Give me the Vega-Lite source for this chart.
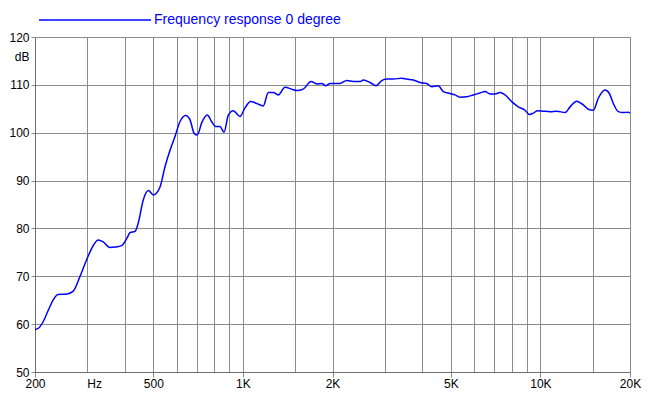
{
  "$schema": "https://vega.github.io/schema/vega-lite/v6.json",
  "width": 595,
  "height": 335,
  "autosize": {"type": "none"},
  "padding": {"left": 35, "top": 37, "right": 20, "bottom": 29},
  "background": "white",
  "config": {
    "font": "Liberation Sans",
    "view": {"stroke": "#6e6e6e", "strokeWidth": 1}
  },
  "data": {
    "values": [
      {"freq": 200, "db": 58.9, "series": "Frequency response 0 degree"},
      {"freq": 205, "db": 59.1, "series": "Frequency response 0 degree"},
      {"freq": 213, "db": 60.5, "series": "Frequency response 0 degree"},
      {"freq": 222, "db": 63.0, "series": "Frequency response 0 degree"},
      {"freq": 230, "db": 65.0, "series": "Frequency response 0 degree"},
      {"freq": 239, "db": 66.2, "series": "Frequency response 0 degree"},
      {"freq": 256, "db": 66.3, "series": "Frequency response 0 degree"},
      {"freq": 269, "db": 66.9, "series": "Frequency response 0 degree"},
      {"freq": 283, "db": 69.9, "series": "Frequency response 0 degree"},
      {"freq": 298, "db": 73.4, "series": "Frequency response 0 degree"},
      {"freq": 310, "db": 75.8, "series": "Frequency response 0 degree"},
      {"freq": 326, "db": 77.6, "series": "Frequency response 0 degree"},
      {"freq": 339, "db": 77.2, "series": "Frequency response 0 degree"},
      {"freq": 357, "db": 76.0, "series": "Frequency response 0 degree"},
      {"freq": 372, "db": 76.1, "series": "Frequency response 0 degree"},
      {"freq": 391, "db": 76.4, "series": "Frequency response 0 degree"},
      {"freq": 407, "db": 77.9, "series": "Frequency response 0 degree"},
      {"freq": 417, "db": 79.1, "series": "Frequency response 0 degree"},
      {"freq": 434, "db": 79.4, "series": "Frequency response 0 degree"},
      {"freq": 445, "db": 81.2, "series": "Frequency response 0 degree"},
      {"freq": 462, "db": 85.9, "series": "Frequency response 0 degree"},
      {"freq": 481, "db": 87.9, "series": "Frequency response 0 degree"},
      {"freq": 500, "db": 87.0, "series": "Frequency response 0 degree"},
      {"freq": 526, "db": 88.6, "series": "Frequency response 0 degree"},
      {"freq": 547, "db": 92.9, "series": "Frequency response 0 degree"},
      {"freq": 569, "db": 96.4, "series": "Frequency response 0 degree"},
      {"freq": 591, "db": 99.2, "series": "Frequency response 0 degree"},
      {"freq": 614, "db": 102.3, "series": "Frequency response 0 degree"},
      {"freq": 642, "db": 103.6, "series": "Frequency response 0 degree"},
      {"freq": 664, "db": 102.7, "series": "Frequency response 0 degree"},
      {"freq": 685, "db": 99.9, "series": "Frequency response 0 degree"},
      {"freq": 702, "db": 99.5, "series": "Frequency response 0 degree"},
      {"freq": 727, "db": 102.1, "series": "Frequency response 0 degree"},
      {"freq": 759, "db": 103.7, "series": "Frequency response 0 degree"},
      {"freq": 785, "db": 102.3, "series": "Frequency response 0 degree"},
      {"freq": 810, "db": 101.3, "series": "Frequency response 0 degree"},
      {"freq": 837, "db": 101.3, "series": "Frequency response 0 degree"},
      {"freq": 864, "db": 100.1, "series": "Frequency response 0 degree"},
      {"freq": 893, "db": 103.7, "series": "Frequency response 0 degree"},
      {"freq": 928, "db": 104.6, "series": "Frequency response 0 degree"},
      {"freq": 977, "db": 103.4, "series": "Frequency response 0 degree"},
      {"freq": 1016, "db": 105.2, "series": "Frequency response 0 degree"},
      {"freq": 1062, "db": 106.5, "series": "Frequency response 0 degree"},
      {"freq": 1113, "db": 106.1, "series": "Frequency response 0 degree"},
      {"freq": 1170, "db": 105.6, "series": "Frequency response 0 degree"},
      {"freq": 1217, "db": 108.4, "series": "Frequency response 0 degree"},
      {"freq": 1265, "db": 108.4, "series": "Frequency response 0 degree"},
      {"freq": 1314, "db": 107.9, "series": "Frequency response 0 degree"},
      {"freq": 1385, "db": 109.5, "series": "Frequency response 0 degree"},
      {"freq": 1459, "db": 109.1, "series": "Frequency response 0 degree"},
      {"freq": 1517, "db": 108.8, "series": "Frequency response 0 degree"},
      {"freq": 1595, "db": 109.1, "series": "Frequency response 0 degree"},
      {"freq": 1694, "db": 110.7, "series": "Frequency response 0 degree"},
      {"freq": 1770, "db": 110.2, "series": "Frequency response 0 degree"},
      {"freq": 1840, "db": 110.3, "series": "Frequency response 0 degree"},
      {"freq": 1898, "db": 109.8, "series": "Frequency response 0 degree"},
      {"freq": 1962, "db": 110.3, "series": "Frequency response 0 degree"},
      {"freq": 2119, "db": 110.3, "series": "Frequency response 0 degree"},
      {"freq": 2232, "db": 110.9, "series": "Frequency response 0 degree"},
      {"freq": 2350, "db": 110.7, "series": "Frequency response 0 degree"},
      {"freq": 2475, "db": 110.7, "series": "Frequency response 0 degree"},
      {"freq": 2539, "db": 111.0, "series": "Frequency response 0 degree"},
      {"freq": 2674, "db": 110.5, "series": "Frequency response 0 degree"},
      {"freq": 2801, "db": 109.8, "series": "Frequency response 0 degree"},
      {"freq": 2928, "db": 110.9, "series": "Frequency response 0 degree"},
      {"freq": 3043, "db": 111.2, "series": "Frequency response 0 degree"},
      {"freq": 3203, "db": 111.2, "series": "Frequency response 0 degree"},
      {"freq": 3417, "db": 111.4, "series": "Frequency response 0 degree"},
      {"freq": 3552, "db": 111.2, "series": "Frequency response 0 degree"},
      {"freq": 3738, "db": 111.0, "series": "Frequency response 0 degree"},
      {"freq": 3937, "db": 110.5, "series": "Frequency response 0 degree"},
      {"freq": 4146, "db": 110.3, "series": "Frequency response 0 degree"},
      {"freq": 4310, "db": 109.6, "series": "Frequency response 0 degree"},
      {"freq": 4536, "db": 109.8, "series": "Frequency response 0 degree"},
      {"freq": 4715, "db": 108.6, "series": "Frequency response 0 degree"},
      {"freq": 4966, "db": 108.2, "series": "Frequency response 0 degree"},
      {"freq": 5162, "db": 107.9, "series": "Frequency response 0 degree"},
      {"freq": 5365, "db": 107.4, "series": "Frequency response 0 degree"},
      {"freq": 5651, "db": 107.5, "series": "Frequency response 0 degree"},
      {"freq": 5947, "db": 107.9, "series": "Frequency response 0 degree"},
      {"freq": 6264, "db": 108.3, "series": "Frequency response 0 degree"},
      {"freq": 6511, "db": 108.6, "series": "Frequency response 0 degree"},
      {"freq": 6768, "db": 108.1, "series": "Frequency response 0 degree"},
      {"freq": 7035, "db": 108.1, "series": "Frequency response 0 degree"},
      {"freq": 7313, "db": 108.4, "series": "Frequency response 0 degree"},
      {"freq": 7601, "db": 107.9, "series": "Frequency response 0 degree"},
      {"freq": 8008, "db": 106.5, "series": "Frequency response 0 degree"},
      {"freq": 8427, "db": 105.4, "series": "Frequency response 0 degree"},
      {"freq": 8877, "db": 104.7, "series": "Frequency response 0 degree"},
      {"freq": 9175, "db": 103.8, "series": "Frequency response 0 degree"},
      {"freq": 9464, "db": 104.1, "series": "Frequency response 0 degree"},
      {"freq": 9791, "db": 104.6, "series": "Frequency response 0 degree"},
      {"freq": 10225, "db": 104.5, "series": "Frequency response 0 degree"},
      {"freq": 10770, "db": 104.4, "series": "Frequency response 0 degree"},
      {"freq": 11346, "db": 104.5, "series": "Frequency response 0 degree"},
      {"freq": 12098, "db": 104.2, "series": "Frequency response 0 degree"},
      {"freq": 12575, "db": 105.4, "series": "Frequency response 0 degree"},
      {"freq": 13242, "db": 106.6, "series": "Frequency response 0 degree"},
      {"freq": 13933, "db": 105.8, "series": "Frequency response 0 degree"},
      {"freq": 14482, "db": 104.9, "series": "Frequency response 0 degree"},
      {"freq": 15053, "db": 104.7, "series": "Frequency response 0 degree"},
      {"freq": 15647, "db": 107.2, "series": "Frequency response 0 degree"},
      {"freq": 16487, "db": 108.9, "series": "Frequency response 0 degree"},
      {"freq": 17043, "db": 108.2, "series": "Frequency response 0 degree"},
      {"freq": 17580, "db": 106.1, "series": "Frequency response 0 degree"},
      {"freq": 18274, "db": 104.4, "series": "Frequency response 0 degree"},
      {"freq": 18995, "db": 104.2, "series": "Frequency response 0 degree"},
      {"freq": 19738, "db": 104.3, "series": "Frequency response 0 degree"},
      {"freq": 20000, "db": 104.1, "series": "Frequency response 0 degree"}
    ]
  },
  "mark": {"type": "line", "strokeWidth": 1.5, "clip": true, "interpolate": "monotone"},
  "encoding": {
    "x": {
      "field": "freq",
      "type": "quantitative",
      "scale": {"type": "log", "domain": [200, 20000], "nice": false},
      "axis": {
        "title": null,
        "values": [200, 300, 316, 400, 500, 600, 700, 800, 900, 1000, 1500, 2000, 3000, 4000, 5000, 6000, 7000, 8000, 9000, 10000, 15000, 20000],
        "labelExpr": "datum.value == 316 ? 'Hz' : (datum.value == 200 || datum.value == 500) ? (datum.value + '') : indexof([1000, 2000, 5000, 10000, 20000], datum.value) >= 0 ? ((datum.value / 1000) + 'K') : ''",
        "labelOverlap": false,
        "labelFlush": false,
        "labelFontSize": 12,
        "labelColor": "#000000",
        "labelPadding": 1,
        "tickSize": 5,
        "tickColor": {"condition": {"test": "indexof([200, 500, 1000, 2000, 5000, 10000, 20000], datum.value) < 0", "value": "transparent"}, "value": "#8c8c8c"},
        "grid": true,
        "gridColor": {"condition": {"test": "datum.value == 316", "value": "transparent"}, "value": "#8c8c8c"},
        "gridOpacity": 1,
        "domainColor": "#6e6e6e"
      }
    },
    "y": {
      "field": "db",
      "type": "quantitative",
      "scale": {"domain": [50, 120], "nice": false, "zero": false},
      "axis": {
        "title": null,
        "values": [50, 60, 70, 80, 90, 100, 110, 116, 120],
        "labelExpr": "datum.value == 116 ? 'dB' : datum.label",
        "labelFontSize": 12,
        "labelColor": "#000000",
        "labelPadding": 2,
        "tickSize": 4,
        "tickColor": {"condition": {"test": "datum.value == 116", "value": "transparent"}, "value": "#8c8c8c"},
        "grid": true,
        "gridColor": {"condition": {"test": "datum.value == 116", "value": "transparent"}, "value": "#8c8c8c"},
        "gridOpacity": 1,
        "domainColor": "#6e6e6e"
      }
    },
    "color": {
      "field": "series",
      "type": "nominal",
      "scale": {"range": ["#0000ff"]},
      "legend": {
        "title": null,
        "orient": "none",
        "legendX": 3,
        "legendY": -74,
        "symbolType": "stroke",
        "symbolSize": 12544,
        "symbolStrokeWidth": 1.5,
        "labelFontSize": 14,
        "labelColor": "#0000ff",
        "labelLimit": 0,
        "labelOffset": 2,
        "padding": 0
      }
    }
  }
}
